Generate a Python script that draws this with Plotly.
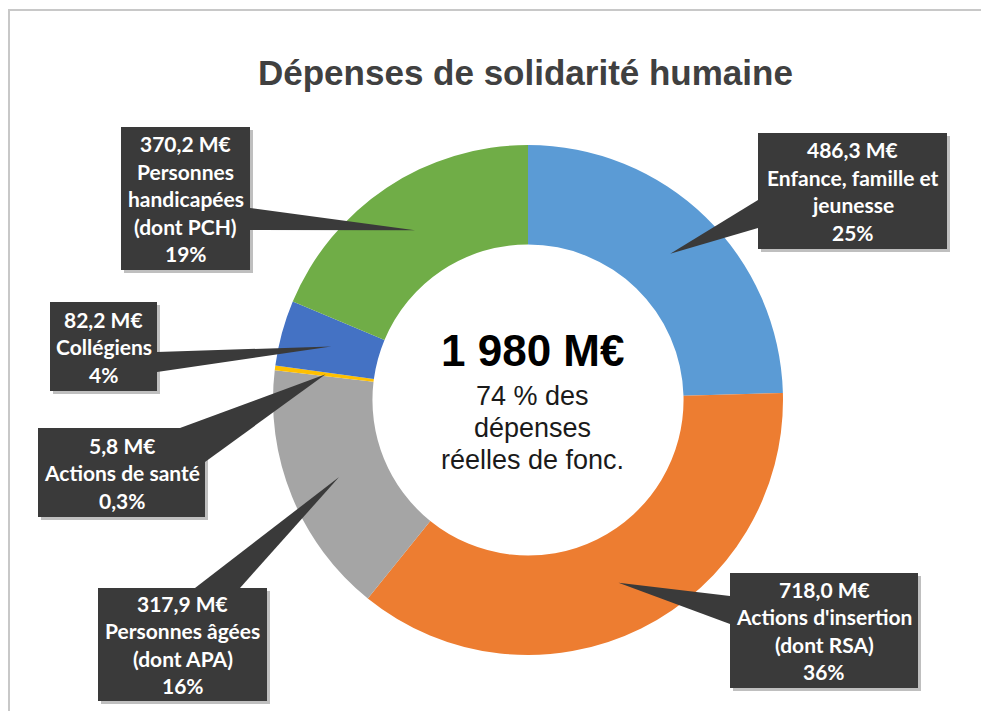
import math
import plotly.graph_objects as go

# data
names = ["Enfance, famille et<br>jeunesse", "Actions d'insertion<br>(dont RSA)",
         "Personnes âgées<br>(dont APA)", "Actions de santé",
         "Collégiens", "Personnes<br>handicapées<br>(dont PCH)"]
values = [486.3, 718.0, 317.9, 5.8, 82.2, 370.2]
colors = ["#5B9BD5", "#ED7D31", "#A5A5A5", "#FFC000", "#4472C4", "#70AD47"]

title = "Dépenses de solidarité humaine"
center_sub = ["74 % des", "dépenses", "réelles de fonc."]

# layout (window pixels; the page body adds an 8px margin)
W, H = 989, 711
OFF = 8
cx, cy, R = 528, 400, 255
hole = 0.61
box_color = "#3a3a3a"
line_step = 27.5
# callout boxes (x0, y0, x1, y1) and pointer base points
boxes = [(758, 133, 947, 249), (730, 573, 918, 688), (98, 588, 267, 701),
         (38, 428, 205, 517), (50, 302, 157, 391), (121, 127, 250, 270)]
bases = [((758, 200), (758, 228)), ((730, 596), (730, 624)), ((195, 588), (240, 588)),
         ((180, 428), (205, 462)), ((157, 352), (157, 372)), ((250, 208), (250, 230))]

total = sum(values)

def fmt(v):
    return f"{v:.1f}".replace(".", ",")

def pct(v):
    p = v / total * 100
    if p < 1:
        return f"{p:.1f}".replace(".", ",") + "%"
    return f"{round(p)}%"

fig = go.Figure()
fig.add_trace(go.Pie(
    values=values, labels=[n.replace("<br>", " ") for n in names],
    marker=dict(colors=colors, line=dict(width=0)),
    hole=hole, sort=False, direction="clockwise", rotation=0,
    textinfo="none", hoverinfo="label+value", showlegend=False,
    domain=dict(x=[(cx - R - OFF) / W, (cx + R - OFF) / W],
                y=[1 - (cy + R - OFF) / H, 1 - (cy - R - OFF) / H]),
))

shapes = []
annotations = []

# frame
shapes.append(dict(type="rect", x0=OFF + 1, y0=10, x1=W + OFF + 5, y1=H + OFF + 5,
                   line=dict(color="#c8c8c8", width=2), fillcolor="rgba(0,0,0,0)", layer="below"))

cum = 0
for i, v in enumerate(values):
    mid = (cum + v / 2) / total * 2 * math.pi
    cum += v
    tx = cx + 0.8 * R * math.sin(mid)
    ty = cy - 0.8 * R * math.cos(mid)
    x0, y0, x1, y1 = boxes[i]
    (bx1, by1), (bx2, by2) = bases[i]
    shapes.append(dict(type="rect", x0=x0 + 3, y0=y0 + 3, x1=x1 + 3, y1=y1 + 3,
                       line=dict(width=0), fillcolor="rgba(0,0,0,0.25)"))
    shapes.append(dict(type="path", path=f"M {bx1} {by1} L {tx:.1f} {ty:.1f} L {bx2} {by2} Z",
                       line=dict(width=0), fillcolor=box_color))
    shapes.append(dict(type="rect", x0=x0, y0=y0, x1=x1, y1=y1,
                       line=dict(width=0), fillcolor=box_color))
    lines = [fmt(values[i]) + " M€"] + names[i].split("<br>") + [pct(values[i])]
    n = len(lines)
    mx, my = (x0 + x1) / 2, (y0 + y1) / 2
    for k, t in enumerate(lines):
        annotations.append(dict(x=mx, y=my + (k - (n - 1) / 2) * line_step, text=f"<b>{t}</b>",
                                showarrow=False, xref="x", yref="y",
                                font=dict(family="Lato", size=21, color="white")))

annotations.append(dict(x=525, y=72, text=f"<b>{title}</b>", showarrow=False, xref="x", yref="y",
                        font=dict(family="Liberation Sans", size=35, color="#404040")))
annotations.append(dict(x=cx + 4, y=350, text=f"<b>{round(total):,} M€</b>".replace(",", " "),
                        showarrow=False, xref="x", yref="y",
                        font=dict(family="Liberation Sans", size=44, color="black")))
for k, t in enumerate(center_sub):
    annotations.append(dict(x=cx + 4, y=396 + k * 32, text=t, showarrow=False, xref="x", yref="y",
                            font=dict(family="Liberation Sans", size=27, color="#1a1a1a")))

fig.update_layout(
    width=W, height=H, margin=dict(l=0, r=0, t=0, b=0),
    paper_bgcolor="white", plot_bgcolor="rgba(0,0,0,0)",
    xaxis=dict(range=[OFF, W + OFF], visible=False, fixedrange=True),
    yaxis=dict(range=[H + OFF, OFF], visible=False, fixedrange=True),
    shapes=shapes, annotations=annotations,
)

fig.write_html("out.html")
